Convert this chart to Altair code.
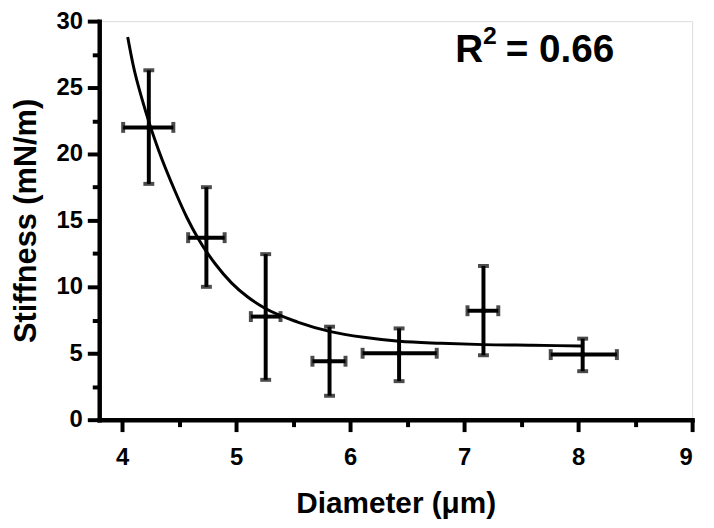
import altair as alt
import pandas as pd

# Data
diam = [4.235, 4.74, 5.26, 5.82, 6.43, 7.17, 8.04]
stiff = [22.0, 13.7, 7.76, 4.4, 5.0, 8.2, 4.9]
stiff_lo = [17.75, 10.0, 3.0, 1.8, 2.9, 4.85, 3.65]
stiff_hi = [26.3, 17.5, 12.46, 7.0, 6.87, 11.57, 6.1]
diam_lo = [4.01, 4.58, 5.13, 5.67, 6.11, 7.03, 7.76]
diam_hi = [4.45, 4.90, 5.39, 5.96, 6.76, 7.30, 8.34]

fit_x = [4.05, 4.10, 4.18, 4.24, 4.32, 4.47, 4.57, 4.67, 4.82, 4.96, 5.10,
         5.25, 5.54, 5.83, 6.12, 6.43, 6.80, 7.17, 7.60, 8.03]
fit_y = [28.8, 26.6, 24.0, 22.3, 20.3, 17.1, 15.2, 13.6, 11.7, 10.3, 9.25,
         8.4, 7.35, 6.63, 6.2, 5.9, 5.75, 5.65, 5.6, 5.55]

major_x = [4, 5, 6, 7, 8, 9]
minor_x = [4.5, 5.5, 6.5, 7.5, 8.5]
major_y = [0, 5, 10, 15, 20, 25, 30]
minor_y = [2.5, 7.5, 12.5, 17.5, 22.5, 27.5]

r2_main = ["R"]
r2_sup = ["2"]
r2_rest = ["= 0.66"]

df = pd.DataFrame({"d": diam, "s": stiff, "slo": stiff_lo, "shi": stiff_hi,
                   "dlo": diam_lo, "dhi": diam_hi})
fit = pd.DataFrame({"d": fit_x, "s": fit_y})

FONT = "Liberation Sans"
xs = alt.Scale(domain=[3.8, 9], nice=False, zero=False)
ys = alt.Scale(domain=[0, 30], nice=False)

common = dict(domainColor="black", tickColor="black", labelFont=FONT,
              labelFontSize=24, labelFontWeight="bold", labelColor="black",
              grid=False, titleFont=FONT, titleFontWeight="bold",
              titleColor="black", domainCap="square",
              tickWidth=4, domainWidth=4.5)

x_axis = alt.Axis(values=major_x, tickSize=12, format="d", labelPadding=14,
                  title="Diameter (μm)", titleFontSize=30, titlePadding=20,
                  orient="bottom", **common)
y_axis = alt.Axis(values=major_y, tickSize=12, format="d", labelPadding=5,
                  title="Stiffness (mN/m)", titleFontSize=31, titlePadding=14,
                  orient="left", **common)

x_minor = alt.Axis(values=minor_x, tickSize=7, tickWidth=4, domain=False,
                   labels=False, title=None, grid=False, tickColor="black",
                   orient="bottom")
y_minor = alt.Axis(values=minor_y, tickSize=7, tickWidth=4, domain=False,
                   labels=False, title=None, grid=False, tickColor="black",
                   orient="left")

base = alt.Chart(df)

minor_layer = base.mark_point(opacity=0).encode(
    x=alt.X("d:Q", scale=xs, axis=x_minor),
    y=alt.Y("s:Q", scale=ys, axis=y_minor),
)

curve = alt.Chart(fit).mark_line(color="black", strokeWidth=3,
                                  interpolate="monotone").encode(
    x=alt.X("d:Q", scale=xs, axis=x_axis),
    y=alt.Y("s:Q", scale=ys, axis=y_axis),
)

X = lambda f: alt.X(f, scale=xs, axis=None)
Y = lambda f: alt.Y(f, scale=ys, axis=None)

vbar = base.mark_rule(color="black", strokeWidth=4).encode(
    x=X("d:Q"), y=Y("slo:Q"), y2="shi:Q")
hbar = base.mark_rule(color="black", strokeWidth=4).encode(
    y=Y("s:Q"), x=X("dlo:Q"), x2="dhi:Q")

cap_top = base.mark_tick(color="black", thickness=4, size=11,
                         orient="horizontal").encode(x=X("d:Q"), y=Y("shi:Q"))
cap_bot = base.mark_tick(color="black", thickness=4, size=11,
                         orient="horizontal").encode(x=X("d:Q"), y=Y("slo:Q"))
cap_left = base.mark_tick(color="black", thickness=4, size=11,
                          orient="vertical").encode(x=X("dlo:Q"), y=Y("s:Q"))
cap_right = base.mark_tick(color="black", thickness=4, size=11,
                           orient="vertical").encode(x=X("dhi:Q"), y=Y("s:Q"))

dots = base.mark_point(filled=True, color="black", opacity=1, size=30).encode(
    x=X("d:Q"), y=Y("s:Q"))

txt = dict(font=FONT, fontWeight="bold", color="black", align="left",
           baseline="alphabetic")
r2a = alt.Chart(pd.DataFrame({"t": r2_main})).mark_text(
    fontSize=39, **txt).encode(text="t:N", x=alt.value(359), y=alt.value(41))
r2b = alt.Chart(pd.DataFrame({"t": r2_sup})).mark_text(
    fontSize=25, **txt).encode(text="t:N", x=alt.value(387), y=alt.value(23))
r2c = alt.Chart(pd.DataFrame({"t": r2_rest})).mark_text(
    fontSize=39, **txt).encode(text="t:N", x=alt.value(410), y=alt.value(41))

chart = alt.layer(curve, minor_layer, vbar, hbar, cap_top, cap_bot, cap_left,
                  cap_right, dots, r2a, r2b, r2c).resolve_axis(
    x="independent", y="independent"
).properties(
    width=598, height=402,
    autosize=alt.AutoSizeParams(type="none"),
    padding={"left": 92, "top": 11, "right": 14, "bottom": 105},
).configure_view(stroke=None).configure(background="white")

chart.save("out.html", embed_options={"renderer": "svg", "actions": False})
